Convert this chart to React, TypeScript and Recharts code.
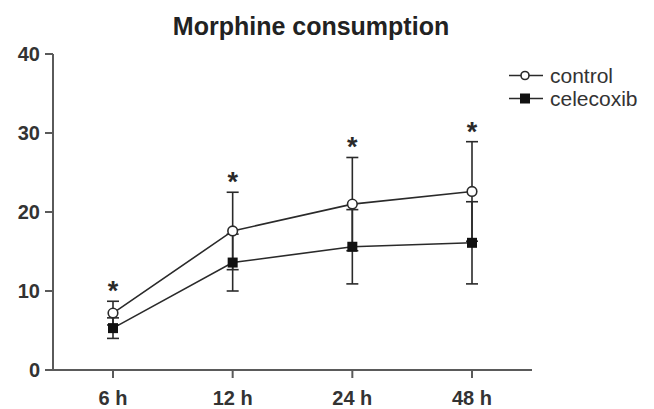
import React from 'react';
import { LineChart, Line, XAxis, YAxis, ErrorBar, LabelList } from 'recharts';

const categories = ['6 h', '12 h', '24 h', '48 h'];
const control = [7.2, 17.6, 21.0, 22.6];
const controlErr = [1.5, 4.9, 5.9, 6.3];
const celecoxib = [5.3, 13.6, 15.6, 16.1];
const celecoxibErr = [1.3, 3.6, 4.7, 5.2];
const significance = ['*', '*', '*', '*'];
const yTicks = [0, 10, 20, 30, 40];
const seriesNames = ['control', 'celecoxib'];

const data = categories.map((c, i) => ({
  category: c,
  control: control[i],
  controlErr: controlErr[i],
  celecoxib: celecoxib[i],
  celecoxibErr: celecoxibErr[i],
  starAt: control[i] + controlErr[i],
  star: significance[i],
}));

const FONT = '"Liberation Sans", Arial, Helvetica, sans-serif';
const AXIS = '#5a5a5a';
const INK = '#2a2a2a';

const CircleDot = (props: any) => {
  const { cx, cy, index } = props;
  if (cx == null || cy == null) return <g key={`c${index}`} />;
  return <circle key={`c${index}`} cx={cx} cy={cy} r={4.8} fill="#fff" stroke={INK} strokeWidth={1.6} />;
};

const SquareDot = (props: any) => {
  const { cx, cy, index } = props;
  if (cx == null || cy == null) return <g key={`s${index}`} />;
  return <rect key={`s${index}`} x={cx - 5} y={cy - 5} width={10} height={10} fill="#111" />;
};

const StarLabel = (props: any) => {
  const { x, y, value } = props;
  if (x == null || y == null) return null;
  return (
    <text x={x} y={y - 1} textAnchor="middle" fontFamily={FONT} fontWeight="bold" fontSize={27} fill={INK}>
      {value}
    </text>
  );
};

const LegendBox = () => {
  const markers = [
    <circle cx={20} cy={11.5} r={4} fill="#fff" stroke={INK} strokeWidth={1.6} />,
    <rect x={15} y={6.5} width={10} height={10} fill="#111" />,
  ];
  return (
    <div style={{ position: 'absolute', top: 64, left: 505, width: 150, fontFamily: FONT }}>
      {seriesNames.map((name, i) => (
        <div key={name} style={{ display: 'flex', alignItems: 'center', height: 23 }}>
          <svg width={45} height={23} style={{ display: 'block' }}>
            <line x1={4} y1={11.5} x2={38} y2={11.5} stroke={INK} strokeWidth={1.6} />
            {markers[i]}
          </svg>
          <span style={{ fontSize: 21, lineHeight: '23px', color: '#333' }}>{name}</span>
        </div>
      ))}
    </div>
  );
};

export default function App() {
  return (
    <div style={{ position: 'absolute', left: 0, top: 0, width: 654, height: 409, background: '#fff' }}>
      <div
        style={{
          position: 'absolute',
          left: 0,
          top: 14,
          width: 622,
          textAlign: 'center',
          fontFamily: FONT,
          fontWeight: 'bold',
          fontSize: 25,
          lineHeight: 1,
          color: '#222',
        }}
      >
        Morphine consumption
      </div>
      <LineChart width={654} height={409} data={data} margin={{ top: 54, right: 122, bottom: 0, left: 0 }}>
        <XAxis
          dataKey="category"
          scale="point"
          padding={{ left: 60, right: 60 }}
          height={39}
          tickSize={8}
          tickMargin={13}
          axisLine={{ stroke: AXIS, strokeWidth: 2 }}
          tickLine={{ stroke: AXIS, strokeWidth: 2 }}
          tick={{ fontFamily: FONT, fontWeight: 'bold', fontSize: 20, fill: '#333' }}
        />
        <YAxis
          domain={[0, 40]}
          ticks={yTicks}
          width={53}
          tickSize={8}
          tickMargin={5}
          axisLine={{ stroke: AXIS, strokeWidth: 2 }}
          tickLine={{ stroke: AXIS, strokeWidth: 2 }}
          tick={{ fontFamily: FONT, fontWeight: 'bold', fontSize: 20, fill: '#333' }}
        />
        <Line
          dataKey="starAt"
          stroke="none"
          dot={false}
          activeDot={false}
          legendType="none"
          isAnimationActive={false}
        >
          <LabelList dataKey="star" content={<StarLabel />} />
        </Line>
        <Line
          dataKey="control"
          name="control"
          stroke={INK}
          strokeWidth={1.6}
          dot={CircleDot}
          activeDot={false}
          isAnimationActive={false}
        >
          <ErrorBar dataKey="controlErr" width={6} stroke={INK} strokeWidth={1.6} direction="y" isAnimationActive={false} />
        </Line>
        <Line
          dataKey="celecoxib"
          name="celecoxib"
          stroke={INK}
          strokeWidth={1.6}
          dot={SquareDot}
          activeDot={false}
          isAnimationActive={false}
        >
          <ErrorBar dataKey="celecoxibErr" width={6} stroke={INK} strokeWidth={1.6} direction="y" isAnimationActive={false} />
        </Line>
      </LineChart>
      <LegendBox />
    </div>
  );
}
